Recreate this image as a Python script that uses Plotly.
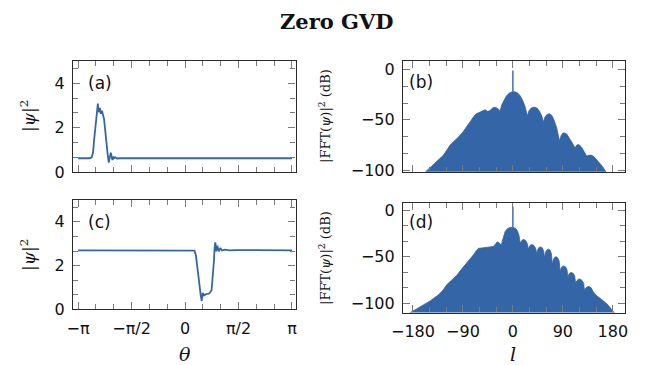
import plotly.graph_objects as go
import math

PAGE_W, PAGE_H = 649, 365
OFF = 8  # default page body margin of the browser
W, H = PAGE_W - OFF, PAGE_H - OFF
PI = math.pi

# ---------------- data ----------------
# (a) |psi|^2 vs theta (zero GVD, state 1)
a_theta = [-PI, -2.80, -2.74, -2.70, -2.67, -2.64, -2.61, -2.585, -2.56, -2.545, -2.525, -2.50,
           -2.47, -2.44, -2.40, -2.38, -2.355, -2.33, -2.30, -2.28, -2.24, -2.21, -2.18, -2.15,
           -2.13, -2.10, -2.08, -2.04, -2.00, -1.90, PI]
a_val = [0.62, 0.62, 0.66, 0.90, 1.44, 2.00, 2.47, 2.80, 3.08, 2.85, 2.69, 2.89,
         2.62, 2.76, 2.58, 2.40, 2.05, 1.60, 1.20, 0.91, 0.42, 0.62, 0.87, 0.66,
         0.54, 0.70, 0.62, 0.66, 0.61, 0.62, 0.62]

# (c) |psi|^2 vs theta (zero GVD, state 2)
c_theta = [-PI, 0.24, 0.28, 0.32, 0.37, 0.42, 0.46, 0.49, 0.52, 0.56, 0.62, 0.71, 0.78,
           0.82, 0.85, 0.87, 0.89, 0.92, 0.95, 0.99, 1.04, 1.08, 1.17, 1.30, 1.50, PI]
c_val = [2.70, 2.70, 2.68, 2.46, 1.93, 1.18, 0.65, 0.39, 0.75, 0.63, 0.69, 0.72, 0.87,
         1.48, 2.23, 2.84, 3.06, 2.65, 2.91, 2.65, 2.81, 2.69, 2.73, 2.70, 2.71, 2.70]

# (b) spectrum in dB vs mode number l
b_l = [-160, -150, -143, -133, -125, -113, -105, -98, -90, -83, -76, -71, -66, -62, -56,
       -50, -46, -42, -36, -32, -28, -25, -23, -20, -16, -12, -7, -2, 3, 8, 13, 18, 22,
       26, 29, 33, 37, 40, 44, 48, 52, 55, 58, 62, 66, 70, 74, 79, 84, 87, 90, 93, 97,
       101, 106, 112, 114, 117, 120, 124, 129, 133, 137, 141, 146, 150, 154, 161, 168, 172]
b_db = [-103, -98, -95, -89, -85, -75, -71, -67, -62, -57, -51, -47, -44, -43, -41.5,
        -40, -41.5, -41, -38, -37.5, -38.5, -40, -41, -35, -30, -26.5, -23.5, -22.3, -22, -23, -26, -31, -37,
        -46, -41, -38.3, -37.5, -37.5, -38.5, -41.5, -46, -52, -47, -44.3, -44, -45.5, -50, -58, -71, -65.5, -63.2, -63, -64,
        -67, -72, -78, -75.8, -74.5, -75, -77.5, -82, -86, -85.2, -85, -86.5, -89, -92, -96, -102, -104]
b_spike_l = [0, 0]
b_spike_db = [-22, -1]

# (d) spectrum in dB vs mode number l
d_l = [-188, -185, -176, -167, -158, -149, -141, -134, -126, -119, -110, -101, -92, -83, -77,
       -71, -66, -62, -55, -47, -41, -35, -31, -28, -25, -21, -18, -14, -10, -5, 0, 5, 8, 11,
       13, 15, 17.5, 20, 23, 26, 28, 30, 32.5, 35, 38, 41, 43, 45, 47.5, 50, 53, 55.5, 57, 59,
       61.5, 64, 67, 69.5, 71, 73, 75.5, 78, 81, 83.5, 85, 87, 89.5, 92, 95, 97.5, 99, 101,
       103.5, 106, 109, 111.5, 113, 115, 118, 121, 124.5, 127.5, 129, 131, 134, 137, 141, 145,
       151, 160, 170, 181, 186]
d_db = [-112, -110, -107, -104, -100.5, -97.5, -94, -91, -86, -80, -75, -70, -63, -57, -52,
        -48, -43.5, -41, -40.5, -40, -39.5, -39, -36, -34, -35, -37.5, -31, -23, -20, -18.5, -18.5, -19.5, -22, -27,
        -35, -33, -31.8, -31.5, -32.5, -36, -42, -38.5, -37.2, -37, -38, -41, -47, -42, -39.8, -39.5, -40.5, -44, -51, -45,
        -42.5, -42, -43, -47, -58, -53, -50.5, -50, -51.5, -55, -66, -62, -60.2, -60, -61, -64, -72, -68.5,
        -67.2, -67, -68, -71, -79, -76, -74.3, -74, -75.5, -78.5, -86, -84, -82.3, -82, -83.5, -88,
        -92, -96, -101, -109, -112]
d_spike_l = [0, 0]
d_spike_db = [-18.5, 4]

theta_ticks = [-PI, -PI / 2, 0, PI / 2, PI]
theta_labels = ["−π", "−π/2", "0", "π/2", "π"]
l_ticks = [-180, -90, 0, 90, 180]

# ---------------- style ----------------
BLUE = "#3465A6"
TICKFONT = dict(family="DejaVu Sans", size=16, color="#111")
LINEC = "#2a2a2a"
TICKC = "#7a7a7a"


def px_x(x0, x1):
    return [(x0 - OFF) / W, (x1 - OFF) / W]


def px_y(top, bot):
    return [1 - (bot - OFF) / H, 1 - (top - OFF) / H]


fig = go.Figure()

# panel frames in page pixels
geo = {
    "a": dict(x=(73, 295.5), y=(61, 172)),
    "b": dict(x=(403, 625), y=(60.5, 171.7)),
    "c": dict(x=(73, 295.5), y=(200, 309.3)),
    "d": dict(x=(403, 625), y=(202.5, 312.5)),
}

axes = {"a": ("x", "y"), "b": ("x2", "y2"), "c": ("x3", "y3"), "d": ("x4", "y4")}

fig.add_trace(go.Scatter(x=a_theta, y=a_val, mode="lines", line=dict(color=BLUE, width=1.8),
                         xaxis="x", yaxis="y", showlegend=False))
fig.add_trace(go.Scatter(x=c_theta, y=c_val, mode="lines", line=dict(color=BLUE, width=1.8),
                         xaxis="x3", yaxis="y3", showlegend=False))

for (ls, ds, sl, sd, xa, ya) in [(b_l, b_db, b_spike_l, b_spike_db, "x2", "y2"),
                                 (d_l, d_db, d_spike_l, d_spike_db, "x4", "y4")]:
    fig.add_trace(go.Scatter(x=[ls[0], ls[-1]], y=[-300, -300], mode="lines",
                             line=dict(width=0, color=BLUE), xaxis=xa, yaxis=ya,
                             showlegend=False, hoverinfo="skip"))
    fig.add_trace(go.Scatter(x=ls, y=ds, mode="lines", fill="tonexty", fillcolor=BLUE,
                             line=dict(color=BLUE, width=0.8), xaxis=xa, yaxis=ya,
                             showlegend=False))
    fig.add_trace(go.Scatter(x=sl, y=sd, mode="lines", line=dict(color=BLUE, width=1.4),
                             xaxis=xa, yaxis=ya, showlegend=False))

common = dict(showline=True, linecolor=LINEC, linewidth=1.2, mirror="allticks", ticks="inside",
              ticklen=7, tickwidth=1.2, tickcolor=TICKC, showgrid=False, zeroline=False,
              tickfont=TICKFONT, automargin=False)


def minor(dt, t0=0):
    return dict(dtick=dt, tick0=t0, ticks="inside", ticklen=5, tickwidth=1.2, tickcolor=TICKC,
                showgrid=False)


layout = {}
for key, (xa, ya) in axes.items():
    g = geo[key]
    xname = "xaxis" + xa[1:]
    yname = "yaxis" + ya[1:]
    xd = dict(common, domain=px_x(*g["x"]), anchor=ya)
    yd = dict(common, domain=px_y(*g["y"]), anchor=xa, ticklabelstandoff=4)
    if key in ("a", "c"):
        xd.update(range=[-3.29, 3.245], tickvals=theta_ticks, ticktext=theta_labels,
                  minor=minor(PI / 6))
        yd.update(range=[0, 5], tickvals=[0, 2, 4], minor=minor(2 / 3))
    else:
        xd.update(range=[-198, 202], tickvals=l_ticks, minor=minor(30))
        if key == "b":
            yd.update(range=[-101.5, 9], tickvals=[-100, -50, 0], minor=minor(50 / 3))
        else:
            yd.update(range=[-110, 8.3], tickvals=[-100, -50, 0], minor=minor(50 / 3))
    if key in ("a", "b"):
        xd.update(showticklabels=False)
    else:
        xd.update(ticklabelstandoff=4)
    layout[xname] = xd
    layout[yname] = yd

fig.update_layout(**layout)

ann = []


def A(text, x, y, size, family, angle=0, xanchor="center", color="#111"):
    ann.append(dict(text=text, x=(x - OFF) / W, y=1 - (y - OFF) / H, xref="paper", yref="paper",
                    showarrow=False, textangle=angle, xanchor=xanchor, yanchor="middle",
                    font=dict(size=size, family=family, color=color)))


A("(a)", 86, 83, 17, "DejaVu Sans", xanchor="left")
A("(b)", 407, 82, 17, "DejaVu Sans", xanchor="left")
A("(c)", 86, 222, 17, "DejaVu Sans", xanchor="left")
A("(d)", 407, 222, 17, "DejaVu Sans", xanchor="left")
A("|<i>ψ</i>|<sup>2</sup>", 28, 116, 17, "DejaVu Serif", angle=-90)
A("|<i>ψ</i>|<sup>2</sup>", 28, 255, 17, "DejaVu Serif", angle=-90)
A("|FFT(<i>ψ</i>)|<sup>2</sup> (dB)", 325, 116, 13, "DejaVu Serif", angle=-90)
A("|FFT(<i>ψ</i>)|<sup>2</sup> (dB)", 325, 258, 13, "DejaVu Serif", angle=-90)
A("<i>θ</i>", 185, 354, 19, "DejaVu Serif")
A("<i>l</i>", 513, 354, 19, "DejaVu Serif")
A("<b>Zero GVD</b>", 337, 22, 21, "DejaVu Serif")

fig.update_layout(width=W, height=H, margin=dict(l=0, r=0, t=0, b=0, autoexpand=False),
                  paper_bgcolor="white", plot_bgcolor="white", annotations=ann,
                  showlegend=False)

fig.write_html("out.html")
